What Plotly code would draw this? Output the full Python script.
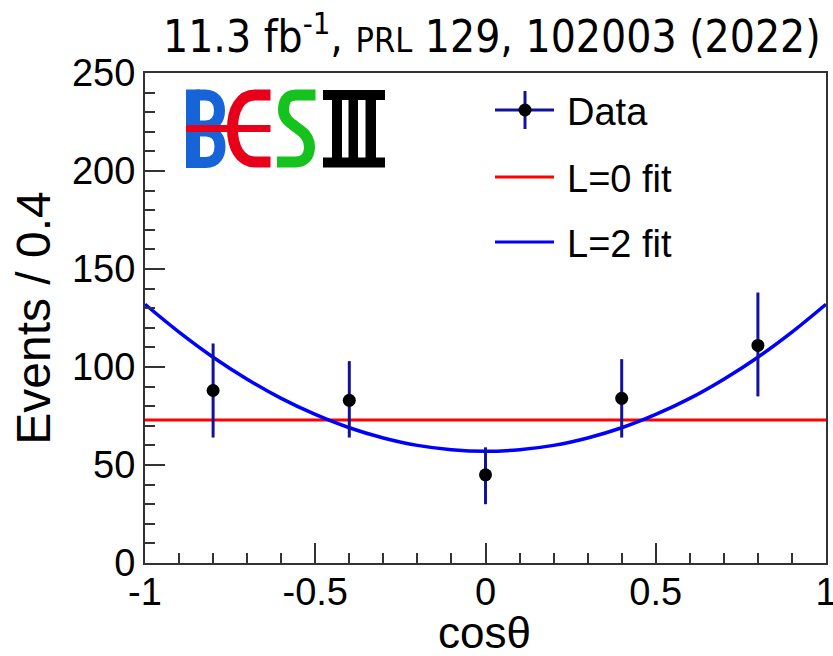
import plotly.graph_objects as go

# ---------------- data ----------------
bin_centers = [-0.8, -0.4, 0.0, 0.4, 0.8]
events = [88, 83, 45, 84, 111]
err_up = [24, 20, 14, 20, 27]
err_down = [24, 19, 15, 20, 26]

fit_x = [-1.0, -0.9, -0.8, -0.7, -0.6, -0.5, -0.4, -0.3, -0.2, -0.1, 0.0,
         0.1, 0.2, 0.3, 0.4, 0.5, 0.6, 0.7, 0.8, 0.9, 1.0]
l2_fit = [132, 117.8, 105, 93.8, 84, 75.8, 69, 63.8, 60, 57.8, 57,
          57.8, 60, 63.8, 69, 75.8, 84, 93.8, 105, 117.8, 132]
l0_x = [-1.0, 1.0]
l0_fit = [73, 73]

x_ticks = [-1, -0.5, 0, 0.5, 1]
x_ticklabels = ["-1", "-0.5", "0", "0.5", "1"]
y_ticks = [0, 50, 100, 150, 200, 250]

legend_labels = ["Data", "L=0 fit", "L=2 fit"]

# ---------------- layout geometry (pixels) ----------------
W, H = 833, 656
ML, MR, MT, MB = 145, 7, 73, 93
PW, PH = W - ML - MR, H - MT - MB

def px(x):
    return (x - ML) / PW

def py(y):
    return (H - MB - y) / PH

NAVY = "#12129c"
BLUE = "#0000ff"
RED = "#ff0000"
FONT = "Liberation Sans, Arial, sans-serif"

fig = go.Figure()

fig.add_trace(go.Scatter(x=l0_x, y=l0_fit, mode="lines",
                         line=dict(color=RED, width=3), showlegend=False))
fig.add_trace(go.Scatter(x=fit_x, y=l2_fit, mode="lines",
                         line=dict(color=BLUE, width=3.5, shape="spline"),
                         showlegend=False))
fig.add_trace(go.Scatter(
    x=bin_centers, y=events, mode="markers",
    marker=dict(color="black", size=13),
    error_y=dict(type="data", symmetric=False, array=err_up, arrayminus=err_down,
                 color=NAVY, thickness=3, width=0),
    showlegend=False))

shapes = []
# ---- manual legend ----
leg_rows = [110, 177, 242]
for i, (lab, yy) in enumerate(zip(legend_labels, leg_rows)):
    col = NAVY if i == 0 else (RED if i == 1 else BLUE)
    shapes.append(dict(type="line", xref="paper", yref="paper",
                       x0=px(495), x1=px(554), y0=py(yy), y1=py(yy),
                       line=dict(color=col, width=3)))
    fig.add_annotation(xref="paper", yref="paper", x=px(565), y=py(yy + 2),
                       text=lab, showarrow=False, xanchor="left", yanchor="middle",
                       font=dict(family=FONT, size=38, color="black"))
shapes.append(dict(type="line", xref="paper", yref="paper",
                   x0=px(525), x1=px(525), y0=py(91), y1=py(129),
                   line=dict(color=NAVY, width=3)))
shapes.append(dict(type="circle", xref="paper", yref="paper",
                   x0=px(518.5), x1=px(531.5), y0=py(116.5), y1=py(103.5),
                   fillcolor="black", line=dict(color="black", width=0)))

# ---- BESIII logo ----
def path(cmds):
    out = []
    for c in cmds:
        if isinstance(c, str):
            out.append(c)
        else:
            out.append(f"{px(c[0]):.5f},{py(c[1]):.5f}")
    return " ".join(out)

LB, LR, LG = "#1763d8", "#e8001a", "#16c21d"
# B
shapes.append(dict(type="rect", xref="paper", yref="paper",
                   x0=px(186), x1=px(200), y0=py(168), y1=py(89.5),
                   fillcolor=LB, line=dict(width=0)))
shapes.append(dict(type="path", xref="paper", yref="paper",
                   path=path(["M", (196, 95), "L", (205, 95), "C", (215, 95), (219.5, 102),
                              (219.5, 110.5), "C", (219.5, 119.5), (215, 126), (205, 126),
                              "L", (196, 126)]),
                   line=dict(color=LB, width=11)))
shapes.append(dict(type="path", xref="paper", yref="paper",
                   path=path(["M", (196, 131), "L", (206, 131), "C", (216, 131), (220, 139),
                              (220, 146.5), "C", (220, 155), (216, 162.5), (206, 162.5),
                              "L", (196, 162.5)]),
                   line=dict(color=LB, width=11)))
# red C
shapes.append(dict(type="path", xref="paper", yref="paper",
                   path=path(["M", (270.5, 95), "L", (255, 95), "C", (240, 95), (232.5, 110),
                              (232.5, 128.5), "C", (232.5, 147), (240, 162), (255, 162),
                              "L", (270.5, 162)]),
                   line=dict(color=LR, width=11)))
shapes.append(dict(type="rect", xref="paper", yref="paper",
                   x0=px(186), x1=px(270.5), y0=py(132), y1=py(125),
                   fillcolor=LR, line=dict(width=0)))
# green S
shapes.append(dict(type="path", xref="paper", yref="paper",
                   path=path(["M", (315.5, 95), "L", (296, 95), "C", (286, 95), (283.5, 102),
                              (283.5, 110), "C", (283.5, 120), (292, 124), (300, 130),
                              "C", (307, 135), (309.5, 140), (309.5, 147),
                              "C", (309.5, 156), (304, 162), (296, 162), "L", (277, 162)]),
                   line=dict(color=LG, width=11)))
# black III
shapes.append(dict(type="rect", xref="paper", yref="paper",
                   x0=px(323), x1=px(385), y0=py(100), y1=py(90),
                   fillcolor="black", line=dict(width=0)))
shapes.append(dict(type="rect", xref="paper", yref="paper",
                   x0=px(323), x1=px(385), y0=py(167.5), y1=py(157.5),
                   fillcolor="black", line=dict(width=0)))
for (a, b) in [(332, 342), (348.5, 358), (365.5, 376)]:
    shapes.append(dict(type="rect", xref="paper", yref="paper",
                       x0=px(a), x1=px(b), y0=py(160), y1=py(97),
                       fillcolor="black", line=dict(width=0)))

# ---- title ----
fig.add_annotation(xref="paper", yref="paper", x=px(823), y=py(34),
                   xanchor="right", yanchor="middle", showarrow=False,
                   text="11.3 fb<sup>-1</sup>, <span style='font-size:34px'>PRL</span> 129, 102003 (2022)",
                   font=dict(family="Liberation Sans Narrow, DejaVu Sans Condensed, Arial Narrow, sans-serif",
                             size=44, color="black"))

# ---- x axis title ----
fig.add_annotation(xref="paper", yref="paper", x=px(484), y=py(632),
                   xanchor="center", yanchor="middle", showarrow=False,
                   text="cosθ", font=dict(family=FONT, size=44, color="black"))

axis_common = dict(showline=True, linecolor="#333333", linewidth=2, mirror=True,
                   ticks="inside", ticklen=20, tickwidth=1.5, tickcolor="#333333",
                   showgrid=False, zeroline=False, automargin=False,
                   ticklabeloverflow="allow",
                   tickfont=dict(family=FONT, size=38, color="black"))

fig.update_xaxes(range=[-1, 1], tickvals=x_ticks, ticktext=x_ticklabels,
                 minor=dict(dtick=0.1, ticks="inside", ticklen=10, tickcolor="#333333",
                            tickwidth=1.5, showgrid=False),
                 ticklabelstandoff=-6,
                 **axis_common)
fig.update_yaxes(range=[0, 250], tickvals=y_ticks,
                 minor=dict(dtick=10, ticks="inside", ticklen=10, tickcolor="#333333",
                            tickwidth=1.5, showgrid=False),
                 title=dict(text="Events / 0.4", font=dict(family=FONT, size=48, color="black"),
                            standoff=6),
                 **axis_common)

fig.update_layout(width=W, height=H, margin=dict(l=ML, r=MR, t=MT, b=MB),
                  plot_bgcolor="white", paper_bgcolor="white", shapes=shapes,
                  showlegend=False)

fig.write_html("out.html")
